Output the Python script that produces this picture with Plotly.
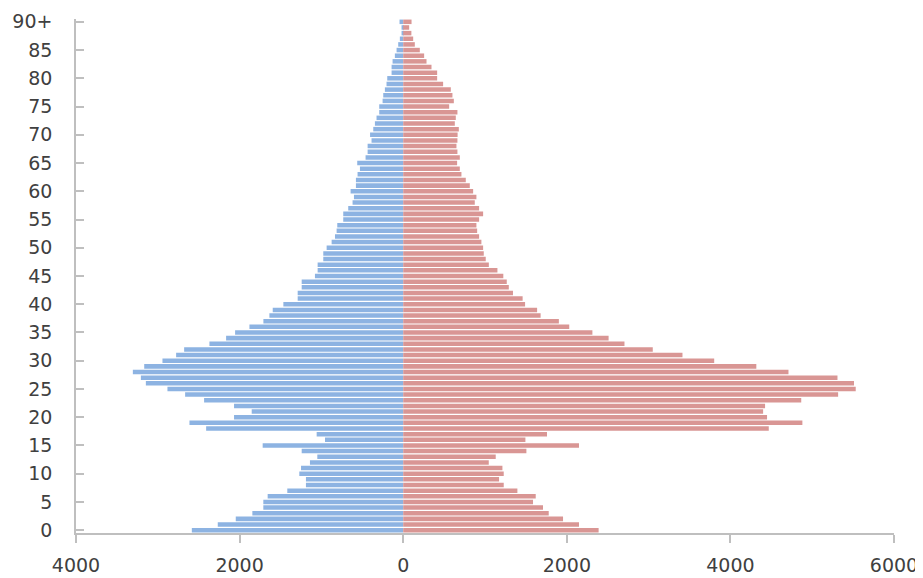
import plotly.graph_objects as go

ages = [str(a) for a in range(90)] + ["90+"]

male = [2584, 2267, 2047, 1844, 1710, 1710, 1657, 1417, 1189, 1189,
        1270, 1249, 1140, 1050, 1241, 1718, 956, 1058, 2409, 2613,
        2068, 1852, 2068, 2434, 2666, 2882, 3146, 3207, 3305, 3166,
        2943, 2776, 2678, 2369, 2165, 2055, 1880, 1709, 1636, 1595,
        1465, 1290, 1290, 1241, 1241, 1079, 1046, 1046, 977, 977,
        936, 875, 834, 814, 806, 733, 733, 672, 619, 602,
        643, 578, 578, 558, 529, 562, 460, 435, 435, 387,
        405, 366, 346, 326, 293, 293, 252, 244, 224, 204,
        195, 142, 142, 130, 102, 81, 61, 41, 20, 20,
        45]

female = [2389, 2149, 1954, 1779, 1709, 1587, 1620, 1396, 1229, 1172,
          1229, 1213, 1046, 1131, 1506, 2149, 1494, 1758, 4469, 4880,
          4448, 4400, 4424, 4866, 5317, 5532, 5511, 5309, 4710, 4317,
          3802, 3414, 3051, 2705, 2511, 2313, 2030, 1903, 1680, 1637,
          1490, 1460, 1342, 1291, 1266, 1224, 1152, 1047, 1009, 985,
          977, 956, 928, 904, 895, 928, 977, 928, 875, 895,
          855, 814, 765, 712, 692, 659, 692, 663, 651, 663,
          665, 680, 631, 643, 663, 562, 619, 602, 582, 488,
          415, 415, 346, 285, 256, 203, 142, 122, 100, 73,
          102]

x_tickvals = [-4000, -2000, 0, 2000, 4000, 6000]
x_ticktext = ["4000", "2000", "0", "2000", "4000", "6000"]
y_tickvals = ["0", "5", "10", "15", "20", "25", "30", "35", "40", "45",
              "50", "55", "60", "65", "70", "75", "80", "85", "90+"]

fig = go.Figure()
fig.add_trace(go.Bar(y=ages, x=[-v for v in male], orientation="h",
                     name="Male", marker=dict(color="#8db3e2", line=dict(width=0))))
fig.add_trace(go.Bar(y=ages, x=female, orientation="h",
                     name="Female", marker=dict(color="#d99694", line=dict(width=0))))

axis_col = "#bfbfbf"
fig.update_layout(
    width=915, height=570,
    margin=dict(l=68, r=29, t=11, b=45),
    barmode="relative", bargap=0.2,
    showlegend=False,
    plot_bgcolor="white", paper_bgcolor="white",
    font=dict(family="DejaVu Sans", size=19, color="#404040"),
    xaxis=dict(range=[-4000, 6000], tickvals=x_tickvals, ticktext=x_ticktext,
               showgrid=False, zeroline=False, showline=True, linecolor=axis_col,
               linewidth=1.5, ticks="outside", ticklen=8, tickcolor=axis_col,
               tickwidth=1.5, ticklabelstandoff=6, automargin=False),
    yaxis=dict(type="category", categoryorder="array", categoryarray=ages,
               range=[-0.5, 90.5], tickvals=y_tickvals, ticktext=y_tickvals,
               showgrid=False, zeroline=False, showline=True, linecolor=axis_col,
               linewidth=1.5, ticks="inside", ticklen=8, tickcolor=axis_col,
               tickwidth=1.5, ticklabelstandoff=18, automargin=False),
)

fig.write_html("out.html")
